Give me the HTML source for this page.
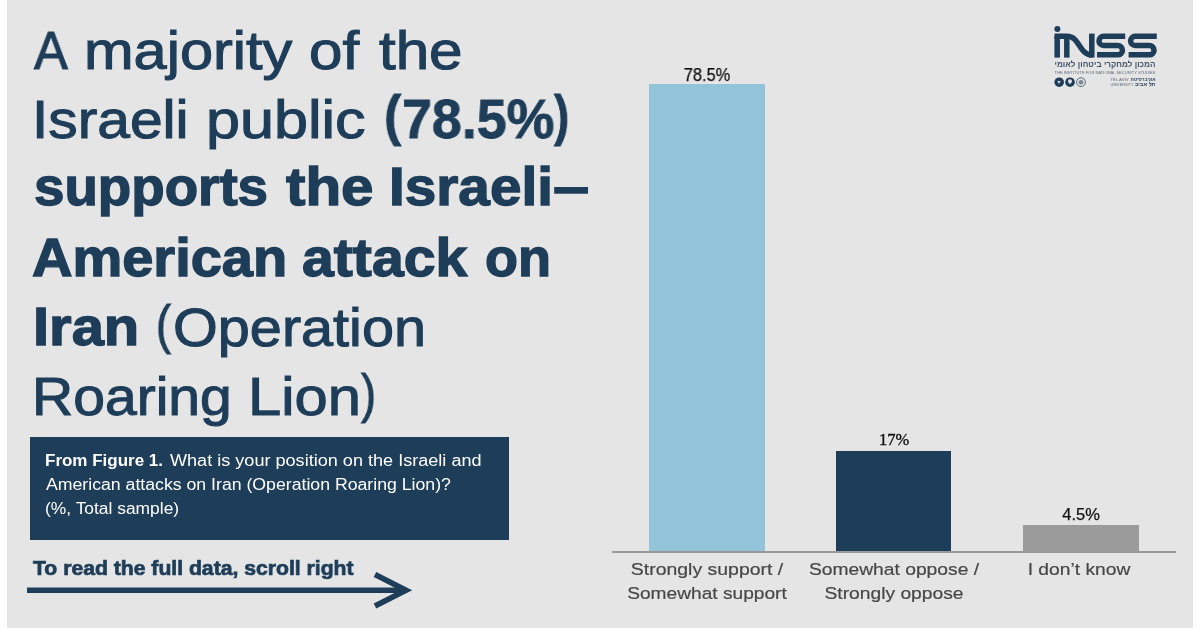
<!DOCTYPE html>
<html>
<head>
<meta charset="utf-8">
<title>INSS survey chart</title>
<style>
  html, body { margin: 0; padding: 0; }
  body { width: 1200px; height: 628px; overflow: hidden; background: #ffffff;
         font-family: "Liberation Sans", sans-serif; position: relative; }
  #card { position: absolute; left: 7px; top: 0; width: 1186px; height: 628px; background: #e5e5e5; }
  .t { position: absolute; white-space: pre; line-height: 1; color: #1e3d59;
       transform-origin: 0 0; font-size: 54px; will-change: transform; }
  .b { font-weight: 700; -webkit-text-stroke: 1.4px #1e3d59; }
  .r { -webkit-text-stroke: 1.1px #1e3d59; }
  #qbox { position: absolute; left: 30px; top: 437px; width: 479px; height: 103px; background: #1e3d59; }
  .q { position: absolute; white-space: pre; line-height: 1; color: #ffffff; font-size: 16px;
       transform-origin: 0 0; left: 46px; will-change: transform; }
  .bar { position: absolute; }
  .val { position: absolute; white-space: pre; line-height: 1; color: #111111; text-align: center;
         transform-origin: 50% 0; will-change: transform; }
  .cat { position: absolute; white-space: pre; line-height: 1; color: #474747; -webkit-text-stroke: 0.2px #474747; font-size: 17.2px;
         text-align: center; transform-origin: 50% 0; width: 240px; will-change: transform; }
</style>
</head>
<body>
<div id="card"></div>

<!-- Title -->
<div class="t r" id="w1a" style="left:33.75px; top:22.8px; transform:scaleX(0.9375);">A</div>
<div class="t r" id="w1b" style="left:84.19px; top:22.8px; transform:scaleX(1.1022);">majority</div>
<div class="t r" id="w1c" style="left:308.77px; top:22.8px; transform:scaleX(1.1136);">of</div>
<div class="t r" id="w1d" style="left:378.75px; top:22.8px; transform:scaleX(1.113);">the</div>
<div class="t r" id="w2a" style="left:32.35px; top:91.5px; transform:scaleX(1.0876);">Israeli</div>
<div class="t r" id="w2b" style="left:205.61px; top:91.5px; transform:scaleX(1.1314);">public</div>
<div class="t b" id="w2c" style="left:384.42px; top:88.1px; font-size:55px; -webkit-text-stroke:0.8px #1e3d59; transform:scaleX(0.9375);">(</div>
<div class="t b" id="w2d" style="left:401.55px; top:91.6px; font-size:55px; -webkit-text-stroke:0.8px #1e3d59; transform:scaleX(0.9771);">78.5%</div>
<div class="t b" id="w2e" style="left:554.2px; top:88.1px; font-size:55px; -webkit-text-stroke:0.8px #1e3d59; transform:scaleX(0.8312);">)</div>
<div class="t b" id="w3a" style="left:33.99px; top:159.4px; transform:scaleX(1.0132);">supports</div>
<div class="t b" id="w3b" style="left:286.0px; top:159.4px; transform:scaleX(1.0812);">the</div>
<div class="t b" id="w3c" style="left:389.35px; top:159.4px; transform:scaleX(1.05);">Israeli</div>
<div class="t b" id="w3d" style="left:552.54px; top:159.4px; transform:scaleX(1.2054);">–</div>
<div class="t b" id="w4a" style="left:32.46px; top:229.8px; transform:scaleX(1.037);">American</div>
<div class="t b" id="w4b" style="left:301.54px; top:229.8px; transform:scaleX(1.059);">attack</div>
<div class="t b" id="w4c" style="left:484.81px; top:229.8px; transform:scaleX(0.9935);">on</div>
<div class="t b" id="w5a" style="left:32.53px; top:299px; transform:scaleX(1.0726);">Iran</div>
<div class="t r" id="w5b" style="left:156.25px; top:296.7px; transform:scaleX(0.8333);">(</div>
<div class="t r" id="w5c" style="left:172.87px; top:300.2px; transform:scaleX(1.0668);">Operation</div>
<div class="t r" id="w6a" style="left:32.47px; top:369px; transform:scaleX(1.0566);">Roaring</div>
<div class="t r" id="w6b" style="left:248.08px; top:369px; transform:scaleX(1.1053);">Lion</div>
<div class="t r" id="w6c" style="left:361.25px; top:365.7px; transform:scaleX(0.8333);">)</div>

<!-- Question box -->
<div id="qbox"></div>
<div class="q" id="q1a" style="top:453px; left:44.7px; font-weight:700; transform:scaleX(1.062);">From Figure 1.</div>
<div class="q" id="q1b" style="top:453px; left:169.6px; transform:scaleX(1.13);">What is your position on the Israeli and</div>
<div class="q" id="q2" style="top:477px; transform:scaleX(1.105);">American attacks on Iran (Operation Roaring Lion)?</div>
<div class="q" id="q3" style="top:501.3px; left:45.3px; transform:scaleX(1.0877);">(%, Total sample)</div>

<!-- Scroll hint -->
<div class="t b" id="hint" style="left:32.6px; top:559.3px; font-size:19.5px; -webkit-text-stroke:0.7px #1e3d59; transform:scaleX(1.085);">To read the full data, scroll right</div>
<svg style="position:absolute; left:0; top:560px;" width="450" height="68" viewBox="0 560 450 68">
  <line x1="27" y1="590.3" x2="407" y2="590.3" stroke="#1e3d59" stroke-width="5.6"/>
  <polyline points="375,574.5 406,590.3 375,606" fill="none" stroke="#1e3d59" stroke-width="5.6" stroke-linejoin="miter" stroke-miterlimit="10"/>
</svg>


<!-- Logo -->
<svg id="logo" style="position:absolute; left:1040px; top:15px; will-change:transform;" width="130" height="80" viewBox="1040 15 130 80">
  <g fill="none" stroke="#1e3d59" stroke-width="5.5">
    <!-- i + N -->
    <line x1="1057.2" y1="36" x2="1057.2" y2="57.6"/>
    <line x1="1066.8" y1="38" x2="1066.8" y2="57.6"/>
    <path d="M1054.5,36.3 H1067 C1080,36.3 1079,54.9 1091.8,54.9"/>
    <line x1="1091.8" y1="33.6" x2="1091.8" y2="57.6"/>
    <!-- S S -->
    <path d="M1125.2,36.3 H1103.6 A4.6,4.6 0 0 0 1103.6,45.5 H1117.8 A4.65,4.65 0 0 1 1117.8,54.8 H1097"/>
    <path d="M1156.8,36.3 H1135.2 A4.6,4.6 0 0 0 1135.2,45.5 H1149.4 A4.65,4.65 0 0 1 1149.4,54.8 H1128.6"/>
  </g>
  <circle cx="1057.4" cy="28.9" r="3" fill="#1e3d59"/>
  <text x="1054.5" y="67.2" font-family="Liberation Sans, sans-serif" font-size="8.3" font-weight="700" fill="#44566b" textLength="101" lengthAdjust="spacingAndGlyphs">המכון למחקרי ביטחון לאומי</text>
  <text x="1054.5" y="73.6" font-family="Liberation Sans, sans-serif" font-size="3.3" fill="#5c6b7c" textLength="101" lengthAdjust="spacingAndGlyphs">THE INSTITUTE FOR NATIONAL SECURITY STUDIES</text>
  <circle cx="1059.2" cy="82.2" r="4.8" fill="#1e3d59"/>
  <circle cx="1070" cy="82.2" r="4.8" fill="#1e3d59"/>
  <circle cx="1081" cy="82.2" r="4.4" fill="none" stroke="#56677a" stroke-width="1"/>
  <circle cx="1081" cy="82.3" r="2.4" fill="#7c8896"/>
  <path d="M1057.4,81 h3.2 l-1.6,3 z" fill="#dfe3e8"/>
  <path d="M1068,81 a2,1.8 0 0 1 4,0 c0,1.4 -1.2,2 -2,3.2 c-0.8,-1.2 -2,-1.8 -2,-3.2z" fill="#dfe3e8"/>
  <text x="1130.5" y="81.2" font-family="Liberation Sans, sans-serif" font-size="4.6" font-weight="700" fill="#2b4560" textLength="25" lengthAdjust="spacingAndGlyphs">אוניברסיטת</text>
  <text x="1110.5" y="81" font-family="Liberation Sans, sans-serif" font-size="3.4" fill="#5c6b7c" textLength="18" lengthAdjust="spacingAndGlyphs">TEL AVIV</text>
  <text x="1135" y="86.4" font-family="Liberation Sans, sans-serif" font-size="5.6" font-weight="700" fill="#2b4560" textLength="20.5" lengthAdjust="spacingAndGlyphs">תל אביב</text>
  <text x="1110.5" y="86.2" font-family="Liberation Sans, sans-serif" font-size="3.6" fill="#5c6b7c" textLength="23" lengthAdjust="spacingAndGlyphs">UNIVERSITY</text>
</svg>

<!-- Chart -->
<div class="bar" style="left:649px; top:84px; width:116px; height:468px; background:#94c4da;"></div>
<div class="bar" style="left:836px; top:451px; width:115px; height:101px; background:#1e3d59;"></div>
<div class="bar" style="left:1023px; top:525px; width:116px; height:27px; background:#9b9b9b;"></div>
<div class="bar" style="left:612px; top:551px; width:564px; height:2px; background:#9a9a9a;"></div>

<div class="val" id="v1" style="left:657px; width:100px; top:66px; font-size:18px; -webkit-text-stroke:0.25px #111; transform:scaleX(0.91);">78.5%</div>
<div class="val" id="v2" style="left:843.5px; width:100px; top:431.6px; font-size:16.5px; font-family:'Liberation Serif', serif; -webkit-text-stroke:0.35px #111;">17%</div>
<div class="val" id="v3" style="left:1031px; width:100px; top:507px; font-size:16px; -webkit-text-stroke:0.25px #111; transform:scaleX(1.03);">4.5%</div>

<div class="cat" id="c1a" style="left:587px; top:561px; transform:scaleX(1.1313);">Strongly support /</div>
<div class="cat" id="c1b" style="left:587px; top:585px; transform:scaleX(1.1135);">Somewhat support</div>
<div class="cat" id="c2a" style="left:774px; top:561px; transform:scaleX(1.1198);">Somewhat oppose /</div>
<div class="cat" id="c2b" style="left:774px; top:585px; transform:scaleX(1.1198);">Strongly oppose</div>
<div class="cat" id="c3" style="left:959.1px; top:561px; transform:scaleX(1.1198);">I don’t know</div>

</body>
</html>
